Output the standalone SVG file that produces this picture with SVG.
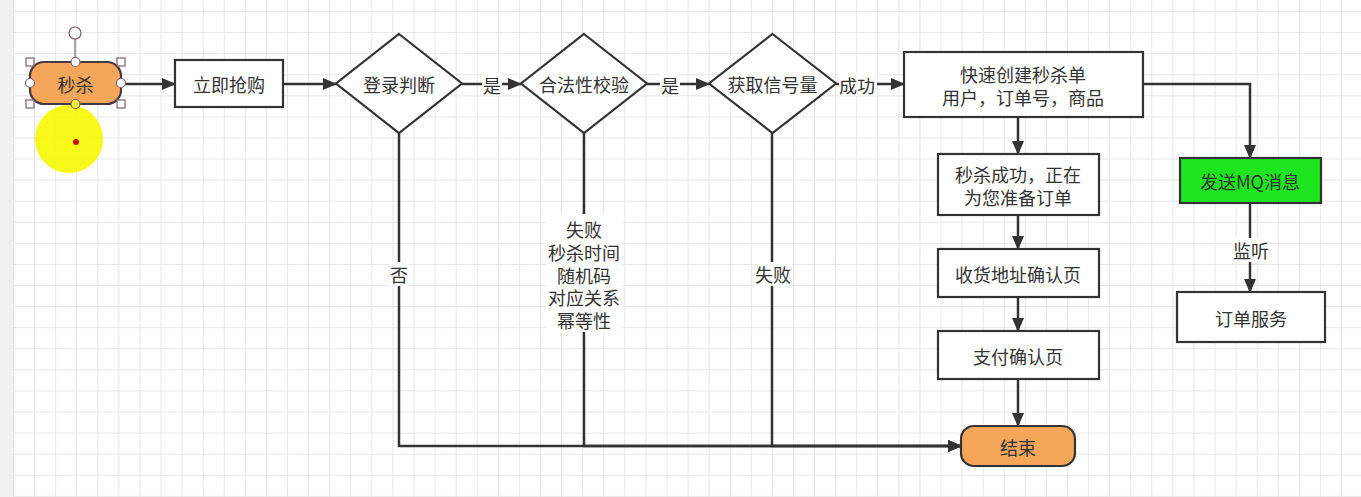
<svg xmlns="http://www.w3.org/2000/svg" width="1361" height="497" viewBox="0 0 1361 497">
<defs>
<pattern id="grid" x="13" y="11" width="21.08" height="21.08" patternUnits="userSpaceOnUse">
<path d="M0 0.5H21.08M0.5 0V21.08" fill="none" stroke="#e6e6e6" stroke-width="1"/>
</pattern>
<marker id="arr" viewBox="0 0 14 12" refX="13" refY="6" markerWidth="14" markerHeight="12" markerUnits="userSpaceOnUse" orient="auto">
<path d="M0 0L14 6L0 12Z" fill="#333"/>
</marker>
<style>
text{font-family:"Noto Sans CJK SC","Noto Sans",sans-serif;font-size:18px;fill:#333;text-anchor:middle;dominant-baseline:central}
.box{fill:#fff;stroke:#333;stroke-width:2.2}
.term{fill:#f5a65b;stroke:#333;stroke-width:2.2}
.edge{fill:none;stroke:#333;stroke-width:2.5}
.lbl{fill:#fff}
.h{fill:#fff;stroke:#7a6070;stroke-width:1.2}
</style>
</defs>
<rect width="1361" height="497" fill="#fff"/>
<rect width="1361" height="497" fill="url(#grid)"/>
<rect width="13" height="497" fill="#f1f1f1"/>

<g id="connectors">
<path class="edge" d="M121 84H175" marker-end="url(#arr)"/>
<path class="edge" d="M283 84H336" marker-end="url(#arr)"/>
<path class="edge" d="M462 84H521" marker-end="url(#arr)"/>
<path class="edge" d="M647 84H709" marker-end="url(#arr)"/>
<path class="edge" d="M836 84H904" marker-end="url(#arr)"/>
<path class="edge" d="M1018 117V154" marker-end="url(#arr)"/>
<path class="edge" d="M1018 215V249" marker-end="url(#arr)"/>
<path class="edge" d="M1018 297V331" marker-end="url(#arr)"/>
<path class="edge" d="M1018 379V426" marker-end="url(#arr)"/>
<path class="edge" d="M1143 84H1250V158" marker-end="url(#arr)"/>
<path class="edge" d="M1250 203V292" marker-end="url(#arr)"/>
<path class="edge" d="M399 133V446H961" marker-end="url(#arr)"/>
<path class="edge" d="M584 133V446H961" marker-end="url(#arr)"/>
<path class="edge" d="M772 133V446H961" marker-end="url(#arr)"/>
<rect class="lbl" x="482" y="72" width="20" height="24"/>
<text x="492" y="85">是</text>
<rect class="lbl" x="660" y="72" width="20" height="24"/>
<text x="670" y="85">是</text>
<rect class="lbl" x="839" y="72" width="38" height="24"/>
<text x="857" y="85">成功</text>
<rect class="lbl" x="1232" y="238" width="38" height="24"/>
<text x="1251" y="250">监听</text>
<rect class="lbl" x="389" y="262" width="20" height="24"/>
<text x="399" y="274">否</text>
<rect class="lbl" x="754" y="262" width="38" height="24"/>
<text x="773" y="274">失败</text>
<rect class="lbl" x="546" y="214" width="76" height="118"/>
<text x="584" y="229">失败</text>
<text x="584" y="252">秒杀时间</text>
<text x="584" y="275">随机码</text>
<text x="584" y="297">对应关系</text>
<text x="584" y="320">幂等性</text>
</g>

<g id="highlight">
<circle cx="69" cy="139" r="34" fill="#f7f700" opacity="0.9"/>
<circle cx="76" cy="142" r="3" fill="#d01010"/>
</g>

<g id="n-miaosha">
<rect class="term" x="30" y="62" width="91" height="42" rx="14" style="stroke:#4a3840"/>
<text x="75.5" y="84">秒杀</text>
<line x1="75" y1="39" x2="75" y2="62" stroke="#7a6070" stroke-width="1.2"/>
<circle class="h" cx="75" cy="33" r="6"/>
<rect class="h" x="26" y="58" width="8" height="8"/>
<rect class="h" x="117" y="58" width="8" height="8"/>
<rect class="h" x="26" y="100" width="8" height="8"/>
<rect class="h" x="117" y="100" width="8" height="8"/>
<circle class="h" cx="75.5" cy="62" r="4.5"/>
<circle class="h" cx="30" cy="83" r="4.5"/>
<circle class="h" cx="121" cy="83" r="4.5"/>
<circle class="h" cx="75.5" cy="104" r="4.5" style="fill:#f0f040"/>
</g>

<g id="n-buy">
<rect class="box" x="175" y="60" width="108" height="47"/>
<text x="229" y="84">立即抢购</text>
</g>

<g id="n-login">
<path class="box" d="M399 34L462 83.5L399 133L336 83.5Z"/>
<text x="399" y="84">登录判断</text>
</g>

<g id="n-valid">
<path class="box" d="M584 34L647 83.5L584 133L521 83.5Z"/>
<text x="584" y="84">合法性校验</text>
</g>

<g id="n-sem">
<path class="box" d="M772.5 34L836 83.5L772.5 133L709 83.5Z"/>
<text x="772.5" y="84">获取信号量</text>
</g>

<g id="n-create">
<rect class="box" x="904" y="52" width="239" height="65"/>
<text x="1023" y="74">快速创建秒杀单</text>
<text x="1023" y="97">用户，订单号，商品</text>
</g>

<g id="n-success">
<rect class="box" x="938" y="154" width="161" height="61"/>
<text x="1018" y="174">秒杀成功，正在</text>
<text x="1018" y="197">为您准备订单</text>
</g>

<g id="n-address">
<rect class="box" x="938" y="249" width="161" height="48"/>
<text x="1018" y="274">收货地址确认页</text>
</g>

<g id="n-pay">
<rect class="box" x="938" y="331" width="161" height="48"/>
<text x="1018" y="356">支付确认页</text>
</g>

<g id="n-end">
<rect class="term" x="961" y="426" width="114" height="40" rx="13"/>
<text x="1018" y="447">结束</text>
</g>

<g id="n-mq">
<rect class="box" x="1180" y="158" width="141" height="45" style="fill:#1ee61e"/>
<text x="1250" y="181">发送MQ消息</text>
</g>

<g id="n-order">
<rect class="box" x="1177" y="292" width="148" height="50"/>
<text x="1251" y="318">订单服务</text>
</g>
</svg>
